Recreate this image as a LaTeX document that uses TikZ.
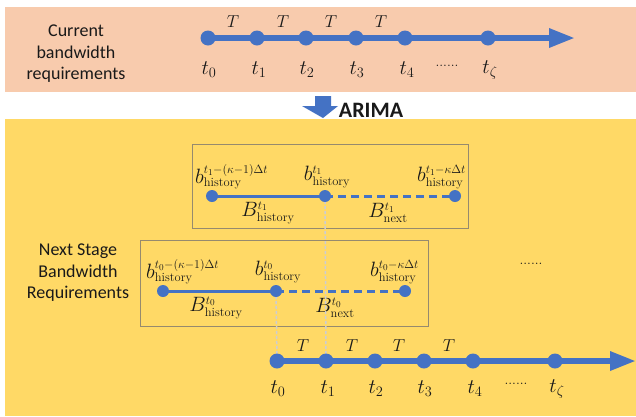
\documentclass[tikz,border=0pt]{standalone}
\usepackage{fontspec}
\usetikzlibrary{arrows.meta}
\newfontfamily\calfont{Carlito}
\DeclareMathSizes{20}{20}{12.5}{9}
\DeclareMathSizes{21}{21}{13.5}{10}
\definecolor{peach}{HTML}{F8CBAD}
\definecolor{myyellow}{HTML}{FFD966}
\definecolor{myblue}{HTML}{4472C4}
\definecolor{boxc}{RGB}{150,138,110}
\definecolor{vgray}{RGB}{205,205,210}
\definecolor{ink}{RGB}{25,25,25}
\tikzset{
  tdot/.style={circle, fill=myblue, inner sep=0pt, minimum size=15pt},
  sdot/.style={circle, fill=myblue, inner sep=0pt, minimum size=12pt},
  tlab/.style={text=ink, inner sep=0pt, font=\fontsize{21}{23}\selectfont},
  Tlab/.style={text=ink, inner sep=0pt, font=\fontsize{18}{22}\selectfont},
  blab/.style={text=ink, inner sep=0pt, font=\fontsize{20}{22}\selectfont},
  side/.style={text=ink, align=center, inner sep=0pt, font=\calfont\fontsize{18}{21.5}\selectfont},
  frame/.style={draw=boxc, line width=1pt, inner sep=0pt},
  axis/.style={myblue, line width=6pt, -{Triangle[length=26pt,width=18pt]}},
  solidl/.style={myblue, line width=3pt},
  dashl/.style={myblue, line width=3pt, dash pattern=on 8pt off 5pt},
  vline/.style={vgray, line width=1.5pt, dash pattern=on 3pt off 2pt},
  dots/.style={text=ink, inner sep=0pt, font=\fontsize{14}{16}\selectfont}
}
\begin{document}
\begin{tikzpicture}[x=1pt,y=-1pt]
\useasboundingbox (0,0) rectangle (636,416);
\fill[white] (0,0) rectangle (636,416);
% backgrounds
\node[fill=peach, inner sep=0pt, minimum width=631pt, minimum height=85pt, anchor=north west] (band1) at (5,7) {};
\node[fill=myyellow, inner sep=0pt, minimum width=631pt, minimum height=297pt, anchor=north west] (band2) at (5,119) {};

% top timeline
\node[side] (cur) at (76,54) {Current\\bandwidth\\requirements};
\coordinate (a0) at (208,38);
\coordinate (a1) at (257,38);
\coordinate (a2) at (306,38);
\coordinate (a3) at (356,38);
\coordinate (a4) at (405,38);
\coordinate (az) at (488,38);
\coordinate (aend) at (575,38);
\draw[axis] (a0) -- (aend);
\foreach \n in {a0,a1,a2,a3,a4,az} \node[tdot] (d\n) at (\n) {};
\node[tlab] (ta0) at (209,70) {$t_0$};
\node[tlab] (ta1) at (259,70) {$t_1$};
\node[tlab] (ta2) at (307,70) {$t_2$};
\node[tlab] (ta3) at (357,70) {$t_3$};
\node[tlab] (ta4) at (407,70) {$t_4$};
\node[tlab] (taz) at (490,70) {$t_\zeta$};
\node[dots] (ddd1) at (447,66) {......};
\node[Tlab] (Ta1) at (233,22) {$T$};
\node[Tlab] (Ta2) at (283,22) {$T$};
\node[Tlab] (Ta3) at (331,22) {$T$};
\node[Tlab] (Ta4) at (381,22) {$T$};

% ARIMA arrow
\fill[myblue] (315,96) -- (331,96) -- (331,106) -- (338,106) -- (323,118) -- (302,106) -- (315,106) -- cycle;
\node[text=ink, inner sep=0pt, font=\calfont\bfseries\fontsize{22}{24}\selectfont] (arima) at (371,110) {ARIMA};

% box 1
\node[frame, minimum width=276pt, minimum height=84pt] (box1) at (330,186) {};
\coordinate (p1) at (212,196);
\coordinate (p2) at (325,196);
\coordinate (p3) at (455,196);
\draw[solidl] (p1) -- (p2);
\draw[dashl] (p2) -- (p3);
\node[blab, anchor=west] (bl1) at (195,177) {$b^{t_1-(\kappa-1)\Delta t}_{\mathrm{history}}$};
\node[blab] (bm1) at (327,177) {$b^{t_1}_{\mathrm{history}}$};
\node[blab, anchor=east] (br1) at (466,177) {$b^{t_1-\kappa\Delta t}_{\mathrm{history}}$};
\node[blab] (Bh1) at (268,213) {$B^{t_1}_{\mathrm{history}}$};
\node[blab] (Bn1) at (388,213) {$B^{t_1}_{\mathrm{next}}$};

% box 2
\node[frame, minimum width=288pt, minimum height=86pt] (box2) at (284,283) {};
\coordinate (q1) at (163,291);
\coordinate (q2) at (276,291);
\coordinate (q3) at (405,291);
\draw[solidl] (q1) -- (q2);
\draw[dashl] (q2) -- (q3);
\node[blab, anchor=west] (bl0) at (146,272) {$b^{t_0-(\kappa-1)\Delta t}_{\mathrm{history}}$};
\node[blab] (bm0) at (278,272) {$b^{t_0}_{\mathrm{history}}$};
\node[blab, anchor=east] (br0) at (419,272) {$b^{t_0-\kappa\Delta t}_{\mathrm{history}}$};
\node[blab] (Bh0) at (216,308) {$B^{t_0}_{\mathrm{history}}$};
\node[blab] (Bn0) at (335,308) {$B^{t_0}_{\mathrm{next}}$};

\node[side] (nxt) at (78,273) {Next Stage\\Bandwidth\\Requirements};
\node[dots] (ddd2) at (531,264) {......};

% bottom timeline
\coordinate (c0) at (277,361);
\coordinate (c1) at (326,361);
\coordinate (c2) at (375,361);
\coordinate (c3) at (424,361);
\coordinate (c4) at (473,361);
\coordinate (cz) at (555,361);
\coordinate (cend) at (636,361);
\draw[vline] (q2) -- (c0);
\draw[vline] (p2) -- (c1);
\foreach \n in {q1,q2,q3,p1,p2,p3} \node[sdot] (s\n) at (\n) {};
\draw[axis] (c0) -- (cend);
\foreach \n in {c0,c1,c2,c3,c4,cz} \node[tdot] (d\n) at (\n) {};
\node[tlab] (tc0) at (278,389) {$t_0$};
\node[tlab] (tc1) at (328,389) {$t_1$};
\node[tlab] (tc2) at (376,389) {$t_2$};
\node[tlab] (tc3) at (425,389) {$t_3$};
\node[tlab] (tc4) at (475,389) {$t_4$};
\node[tlab] (tcz) at (557,389) {$t_\zeta$};
\node[dots] (ddd3) at (516,384) {......};
\node[Tlab] (Tc1) at (303,346) {$T$};
\node[Tlab] (Tc2) at (352,346) {$T$};
\node[Tlab] (Tc3) at (399,346) {$T$};
\node[Tlab] (Tc4) at (449,346) {$T$};
\end{tikzpicture}
\end{document}
